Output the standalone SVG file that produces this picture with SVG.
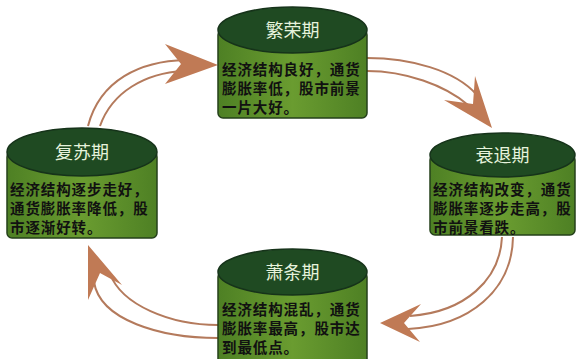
<svg xmlns="http://www.w3.org/2000/svg" width="577" height="359" viewBox="0 0 577 359">
<style>
.body{fill:url(#bg);stroke:#24401a;stroke-width:1.5}
.cap{fill:#1f4a22;stroke:#16331a;stroke-width:1.5}
.title{font-family:"Noto Sans CJK SC",sans-serif;font-size:18px;fill:#e6f3dc;text-anchor:middle}
.txt{font-family:"Noto Sans CJK SC",sans-serif;font-size:14.5px;letter-spacing:0.9px;font-weight:bold;fill:#111}
.ln{fill:none;stroke:#b47a5c;stroke-width:2}
.hd{fill:#c07a55}
</style>
<defs>
<linearGradient id="bg" x1="0" y1="0" x2="1" y2="0">
<stop offset="0" stop-color="#4e8024"/>
<stop offset="0.5" stop-color="#6a9c30"/>
<stop offset="1" stop-color="#4e8024"/>
</linearGradient>
</defs>
<rect width="577" height="359" fill="#ffffff"/>
<g id="connectors">
<path class="ln" d="M 88 126 C 100 80, 140 61, 186 60"/>
<path class="ln" d="M 100 126 C 112 92, 145 73, 184 71"/>
<polygon class="hd" points="218,65 165,44 181,64 165,84"/>
<path class="ln" d="M 367 58 C 410 58, 455 70, 477 95"/>
<path class="ln" d="M 367 71 C 405 71, 445 85, 468 105"/>
<polygon class="hd" points="492,128 475,76 473,104 444,100"/>
<path class="ln" d="M 513 237 C 512 290, 470 326, 408 329"/>
<path class="ln" d="M 502 237 C 500 280, 465 312, 410 316"/>
<polygon class="hd" points="380,323 421,304 404,323 420,342"/>
<path class="ln" d="M 218 325 C 170 325, 122 305, 110 274"/>
<path class="ln" d="M 218 338 C 160 338, 100 320, 94 282"/>
<polygon class="hd" points="88,245 122,285 100,273 88,300"/>
</g>
<g id="node-fanrong">
<rect class="body" x="218" y="30" width="149" height="88" rx="5"/>
<ellipse class="cap" cx="292.5" cy="30" rx="74.5" ry="23"/>
<text class="title" x="292.5" y="37">繁荣期</text>
<text class="txt" x="222" y="75">经济结构良好，通货</text>
<text class="txt" x="222" y="94">膨胀率低，股市前景</text>
<text class="txt" x="222" y="113">一片大好。</text>
</g>
<g id="node-fusu">
<rect class="body" x="7" y="152" width="150" height="86" rx="5"/>
<ellipse class="cap" cx="82" cy="152" rx="75" ry="24"/>
<text class="title" x="82" y="159">复苏期</text>
<text class="txt" x="10" y="195">经济结构逐步走好，</text>
<text class="txt" x="10" y="214">通货膨胀率降低，股</text>
<text class="txt" x="10" y="233">市逐渐好转。</text>
</g>
<g id="node-shuaitui">
<rect class="body" x="430" y="155" width="145" height="80" rx="5"/>
<ellipse class="cap" cx="502.5" cy="155" rx="72.5" ry="22"/>
<text class="title" x="502.5" y="162">衰退期</text>
<text class="txt" x="433" y="195">经济结构改变，通货</text>
<text class="txt" x="433" y="214">膨胀率逐步走高，股</text>
<text class="txt" x="433" y="233">市前景看跌。</text>
</g>
<g id="node-xiaotiao">
<rect class="body" x="218" y="272" width="149" height="95" rx="5"/>
<ellipse class="cap" cx="292.5" cy="272" rx="74.5" ry="23"/>
<text class="title" x="292.5" y="279">萧条期</text>
<text class="txt" x="222" y="315">经济结构混乱，通货</text>
<text class="txt" x="222" y="334">膨胀率最高，股市达</text>
<text class="txt" x="222" y="353">到最低点。</text>
</g>
</svg>
